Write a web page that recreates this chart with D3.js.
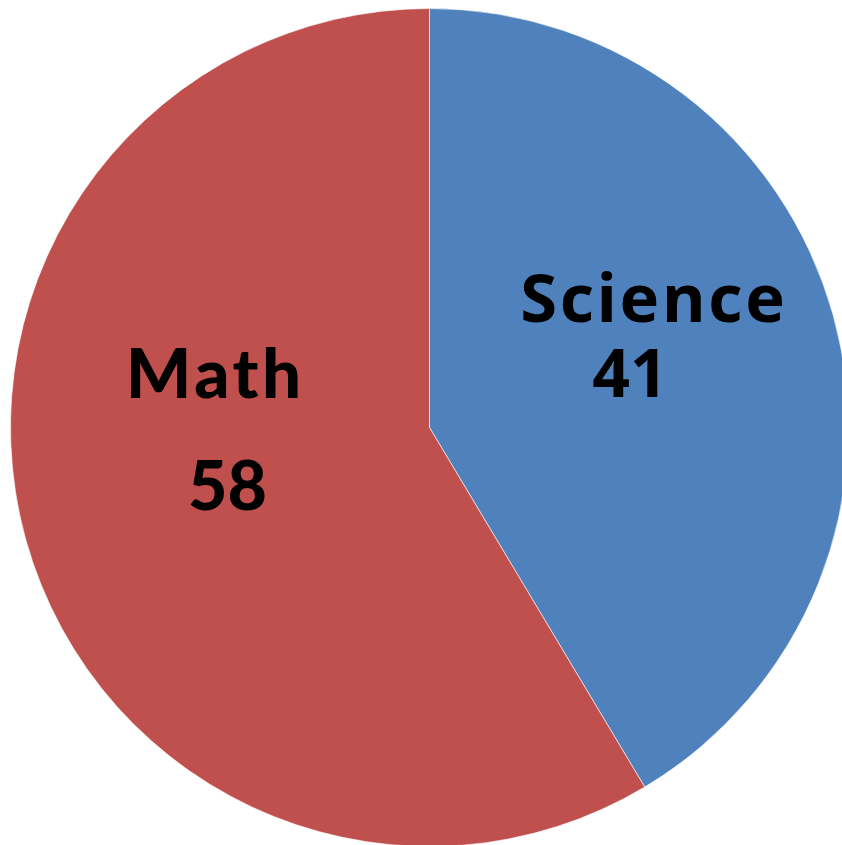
<!DOCTYPE html>
<html>
<head>
<meta charset="utf-8">
<script src="https://cdn.jsdelivr.net/npm/d3@7"></script>
<style>
  html, body { margin: 0; padding: 0; background: #ffffff; }
  svg { display: block; }
</style>
</head>
<body>
<svg id="chart" width="842" height="845"></svg>
<script>
// Subjects and their counts
const categories = ["Science", "Math"];
const values = [41, 58];
const colors = ["#4F81BD", "#C0504D"];

const svg = d3.select("#chart");
const cx = 429.5, cy = 427.5, radius = 419;

const g = svg.append("g").attr("transform", `translate(${cx},${cy})`);

const pie = d3.pie().sort(null).value(d => d.value);
const arcs = pie(categories.map((c, i) => ({ name: c, value: values[i] })));

const arc = d3.arc().innerRadius(0).outerRadius(radius);

g.selectAll("path.slice")
  .data(arcs)
  .join("path")
  .attr("class", "slice")
  .attr("d", arc)
  .attr("fill", (d, i) => colors[i])
  .attr("stroke", "#ffffff")
  .attr("stroke-width", 0.6);

// Label placement: name line and value line for each slice
const labelStyle = [
  { font: "'Open Sans', sans-serif", weight: 700, size: 67, spacing: 2.5,
    name: { x: 652.5, y: 322 }, value: { x: 630, y: 397 } },
  { font: "Lato, sans-serif", weight: 900, size: 69, spacing: 3.5,
    name: { x: 213.5, y: 398 }, value: { x: 227.5, y: 510 } }
];

arcs.forEach((d, i) => {
  const s = labelStyle[i];
  g.append("text")
    .attr("x", s.name.x - cx + s.spacing / 2).attr("y", s.name.y - cy)
    .attr("text-anchor", "middle")
    .attr("font-family", s.font).attr("font-weight", s.weight)
    .attr("font-size", s.size).attr("fill", "#000")
    .attr("letter-spacing", s.spacing)
    .text(d.data.name);
  g.append("text")
    .attr("x", s.value.x - cx).attr("y", s.value.y - cy)
    .attr("text-anchor", "middle")
    .attr("font-family", s.font).attr("font-weight", s.weight)
    .attr("font-size", s.size - 1).attr("fill", "#000")
    .text(d.data.value);
});
</script>
</body>
</html>
